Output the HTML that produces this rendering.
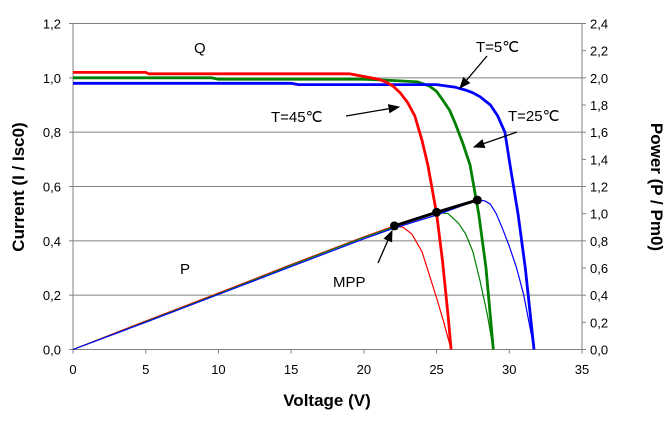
<!DOCTYPE html>
<html><head><meta charset="utf-8"><style>
body{margin:0;background:#fff}
svg text{font-family:"Liberation Sans",Arial,sans-serif}
</style></head><body>
<svg id="c" width="670" height="423" xmlns="http://www.w3.org/2000/svg"></svg>
<script>
const xTicks=[0,5,10,15,20,25,30,35];
const yTicks=[0,0.2,0.4,0.6,0.8,1.0,1.2];
const y2Ticks=[0,0.2,0.4,0.6,0.8,1.0,1.2,1.4,1.6,1.8,2.0,2.2,2.4];
const redIV_V=[0,5,5.2,19,20,21,21.5,22,22.5,23,23.5,24,24.4,25,25.4,25.8,26];
const redIV_I=[1.02,1.02,1.015,1.015,1.005,0.995,0.985,0.97,0.945,0.91,0.86,0.77,0.68,0.5,0.33,0.12,0];
const greenIV_V=[0,9.5,10,20,22,23.7,24.5,25,25.4,25.9,26.3,26.8,27.3,27.9,28.4,28.7,28.9];
const greenIV_I=[1.0,1.0,0.995,0.995,0.99,0.985,0.97,0.95,0.92,0.88,0.83,0.76,0.68,0.5,0.3,0.12,0];
const blueIV_V=[0,15,15.5,25,26.3,27,27.5,28,28.7,29.2,29.7,30.05,30.6,31.1,31.5,31.7];
const blueIV_I=[0.98,0.98,0.975,0.975,0.965,0.955,0.945,0.93,0.9,0.86,0.8,0.68,0.5,0.3,0.1,0];
const redP_V=[0,5,10,15,20,22.1,22.7,23.3,24,24.5,25,25.5,26];
const redP_P=[0,0.21,0.415,0.625,0.83,0.91,0.9,0.85,0.72,0.55,0.38,0.2,0];
const greenP_V=[0,5,10,15,20,22,25,25.8,26.5,27,27.5,28,28.5,28.9];
const greenP_P=[0,0.205,0.41,0.62,0.825,0.9,1.01,1.0,0.93,0.85,0.72,0.5,0.25,0];
const blueP_V=[0,5,10,15,20,22,25,27.8,28.3,28.7,29.1,29.5,30,30.5,31,31.5,31.7];
const blueP_P=[0,0.2,0.405,0.61,0.815,0.89,0.99,1.1,1.095,1.07,1.0,0.9,0.76,0.6,0.4,0.12,0];
const mppV=[22.1,25,27.8];
const mppP=[0.91,1.01,1.1];

const NS="http://www.w3.org/2000/svg",svg=document.getElementById('c');
const X0=73,X1=582,Y0=349.5,Y1=23.5;
const sx=v=>X0+v/35*(X1-X0), sy=i=>Y0-i/1.2*(Y0-Y1), sy2=p=>Y0-p/2.4*(Y0-Y1);
function el(t,a,txt){const e=document.createElementNS(NS,t);for(const k in a)e.setAttribute(k,a[k]);if(txt!==undefined)e.textContent=txt;svg.appendChild(e);return e;}
yTicks.forEach((t,i)=>{if(t>0){const g=el('line',{x1:X0,x2:X1,y1:sy(t),y2:sy(t),stroke:'#808080','stroke-width':1});

}
const l=el('text',{x:61,y:sy(t)+5,'text-anchor':'end','font-size':13},t.toFixed(1).replace('.',','));


el('line',{x1:X0-4,x2:X0,y1:sy(t),y2:sy(t),stroke:'#808080'});});
y2Ticks.forEach(t=>{const l=el('text',{x:590,y:sy2(t)+5,'font-size':13},t.toFixed(1).replace('.',','));


el('line',{x1:X1,x2:X1+4,y1:sy2(t),y2:sy2(t),stroke:'#808080'});});
xTicks.forEach(t=>{const l=el('text',{x:sx(t),y:374,'text-anchor':'middle','font-size':13},String(t));


el('line',{x1:sx(t),x2:sx(t),y1:Y0,y2:Y0+4,stroke:'#808080'});});
el('line',{x1:X0,x2:X0,y1:Y1,y2:Y0,stroke:'#808080'});
el('line',{x1:X1,x2:X1,y1:Y1,y2:Y0,stroke:'#808080'});
el('line',{x1:X0,x2:X1,y1:Y0,y2:Y0,stroke:'#808080'});
function line(V,Y,f,col,w,name){const d=V.map((v,i)=>(i?'L':'M')+sx(v).toFixed(1)+','+f(Y[i]).toFixed(1)).join('');
const p=el('path',{d:d,fill:'none',stroke:col,'stroke-width':w,'stroke-linejoin':'round'});

}
line(redP_V,redP_P,sy2,'#ff0000',1.2,'power-curve-45c');
line(greenP_V,greenP_P,sy2,'#008000',1.2,'power-curve-25c');
line(blueP_V,blueP_P,sy2,'#0000ff',1.2,'power-curve-5c');
line(greenIV_V,greenIV_I,sy,'#008000',2.8,'current-curve-25c');
line(blueIV_V,blueIV_I,sy,'#0000ff',2.8,'current-curve-5c');
line(redIV_V,redIV_I,sy,'#ff0000',2.8,'current-curve-45c');
line(mppV,mppP,sy2,'#000',3,'mpp-line');
mppV.forEach((v,i)=>{const c=el('circle',{cx:sx(v),cy:sy2(mppP[i]),r:4.5,fill:'#000'});

});
el('defs',{}).innerHTML='<marker id="ah" viewBox="0 0 10 10" refX="9" refY="5" markerWidth="9" markerHeight="9" orient="auto-start-reverse"><path d="M0,1L10,5L0,9z" fill="#000"/></marker>';
function arrow(x1,y1,x2,y2,n){const a=el('line',{x1,y1,x2,y2,stroke:'#000','stroke-width':1.3,'marker-end':'url(#ah)'});

}
arrow(487,56,460,88,'arrow-5c');arrow(346,116,399,107,'arrow-45c');arrow(517,132,474,147,'arrow-25c');arrow(378,263,392,231,'arrow-mpp');
function lab(x,y,t,n,extra){const e=el('text',Object.assign({x,y,'font-size':15},extra||{}),t);

}
lab(194,53,'Q','label-q');lab(180,274,'P','label-p');lab(333,287,'MPP','label-mpp');
lab(476,52,'T=5℃','label-5c');lab(271,122,'T=45℃','label-45c');lab(508,121,'T=25℃','label-25c');
lab(327,406,'Voltage (V)','x-axis-title',{'font-size':17,'font-weight':'bold','text-anchor':'middle'});
lab(0,0,'Current (I / Isc0)','y-axis-title',{'font-size':17,'font-weight':'bold','text-anchor':'middle',transform:'translate(24,187) rotate(-90)'});
lab(0,0,'Power (P / Pm0)','y2-axis-title',{'font-size':17,'font-weight':'bold','text-anchor':'middle',transform:'translate(651,187) rotate(90)'});
</script>
</body></html>
